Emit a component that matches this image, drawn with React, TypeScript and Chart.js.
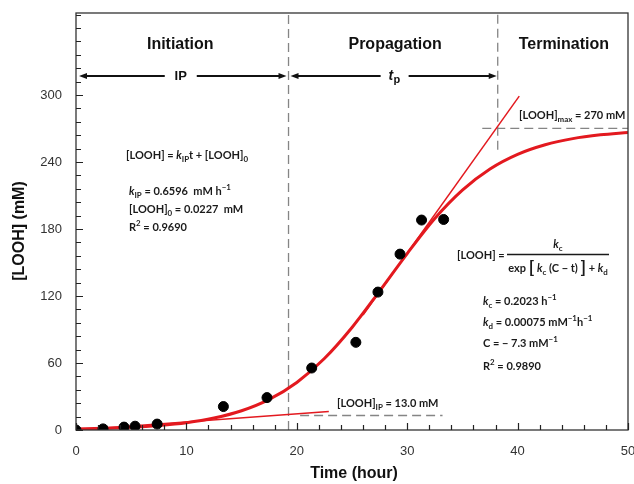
import React, { useEffect, useRef } from 'react';
import { Chart, registerables } from 'chart.js';

Chart.register(...registerables);

// ---- data ----
const TIME_H = [0, 2.45, 4.35, 5.35, 7.35, 13.35, 17.3, 21.35, 25.35, 27.35, 29.35, 31.3, 33.3];
const LOOH_MM = [0, 1, 2.6, 3.4, 5.3, 21, 29, 55.5, 78.5, 123.5, 157.5, 188, 188.5];

const FIT_T = [0, 2.5, 5, 7.5, 10, 12.5, 15, 17.5, 20, 22.5, 25, 27.5, 30, 32.5, 35, 37.5, 40, 42.5, 45, 47.5, 50];
const FIT_LOOH = [0.9, 1.5, 2.4, 4, 6.5, 10.7, 17.2, 27.4, 42.6, 64, 91.8, 124.4, 158, 189.4, 214.8, 233.7, 246.8, 255.4, 260.9, 264.3, 266.5];

const IP_LINE_T = [0, 22.9];
const IP_LINE_Y = [0.02, 16.5];
const TAN_T = [26, 40.15];
const TAN_Y = [103, 299];

const IP_T = 19.25;
const TP_END_T = 38.2;
const TP_END_LINE_BOTTOM = 251;
const LOOH_IP = 13;
const LOOH_MAX = 270;
const IP_DASH_T = [20.3, 33.2];
const MAX_DASH_T = [36.8, 50];

const X_TICK_LABELS = [0, 10, 20, 30, 40, 50];
const Y_TICK_LABELS = [0, 60, 120, 180, 240, 300];
const X_MINOR_STEP = 2;
const Y_MINOR_STEP = 12;
const X_MAX = 50;
const Y_MAX = 373.4;

const PHASES = ['Initiation', 'Propagation', 'Termination'];
const X_TITLE = 'Time (hour)';
const Y_TITLE = '[LOOH] (mM)';

const RED = '#e3191f';
const DASH = '#858585';
const SANS = '"Liberation Sans", Arial, sans-serif';
const EQ = 'Lato, "Liberation Sans", sans-serif';

type Seg = { t: string; it?: boolean; sub?: boolean; sup?: boolean; big?: boolean };

function drawRich(ctx: CanvasRenderingContext2D, segs: Seg[], x: number, y: number, size: number, align: 'left' | 'center' = 'left') {
  const fontFor = (s: Seg) => {
    let sz = size;
    if (s.sub || s.sup) sz = size * 0.72;
    if (s.big) sz = size * 1.6;
    return `${s.it ? 'italic ' : ''}bold ${sz}px ${EQ}`;
  };
  let w = 0;
  for (const s of segs) {
    ctx.font = fontFor(s);
    w += ctx.measureText(s.t).width;
  }
  let cx = align === 'center' ? x - w / 2 : x;
  ctx.textAlign = 'left';
  ctx.textBaseline = 'alphabetic';
  for (const s of segs) {
    ctx.font = fontFor(s);
    const dy = s.sub ? size * 0.28 : s.sup ? -size * 0.42 : s.big ? size * 0.12 : 0;
    ctx.fillText(s.t, cx, y + dy);
    cx += ctx.measureText(s.t).width;
  }
}

const pts = (xs: number[], ys: number[]) => xs.map((x, i) => ({ x, y: ys[i] }));

const overlay = {
  id: 'overlay',
  afterDatasetsDraw(chart: any) {
    const { ctx, chartArea: a, scales } = chart;
    const xs = scales.x;
    const ys = scales.y;
    const px = (v: number) => xs.getPixelForValue(v);
    const py = (v: number) => ys.getPixelForValue(v);
    ctx.save();

    // frame
    ctx.strokeStyle = '#333';
    ctx.lineWidth = 1.3;
    ctx.strokeRect(a.left, a.top, a.right - a.left, a.bottom - a.top);

    // inward ticks
    ctx.lineWidth = 1.2;
    ctx.strokeStyle = '#222';
    ctx.beginPath();
    for (let v = 0; v <= X_MAX + 1e-6; v += X_MINOR_STEP) {
      const major = X_TICK_LABELS.includes(Math.round(v));
      const x = Math.round(px(v)) + 0.5;
      ctx.moveTo(x, a.bottom);
      ctx.lineTo(x, a.bottom - (major ? 7 : 5));
    }
    for (let v = 0; v <= Y_MAX; v += Y_MINOR_STEP) {
      const major = Y_TICK_LABELS.includes(Math.round(v));
      const y = Math.round(py(v)) + 0.5;
      ctx.moveTo(a.left, y);
      ctx.lineTo(a.left + (major ? 7 : 5), y);
    }
    ctx.stroke();

    // phase headers
    ctx.fillStyle = '#111';
    ctx.font = `bold 16px ${SANS}`;
    ctx.textAlign = 'center';
    ctx.textBaseline = 'middle';
    const hy = a.top + 32;
    ctx.fillText(PHASES[0], (px(0) + px(IP_T)) / 2 - 2, hy);
    ctx.fillText(PHASES[1], (px(IP_T) + px(TP_END_T)) / 2 + 2, hy);
    ctx.fillText(PHASES[2], (px(TP_END_T) + a.right) / 2 + 1, hy);

    // double arrows
    const ay = a.top + 63;
    const arrow = (x1: number, x2: number, g1: number, g2: number) => {
      ctx.strokeStyle = '#111';
      ctx.fillStyle = '#111';
      ctx.lineWidth = 1.8;
      ctx.beginPath();
      ctx.moveTo(x1 + 4, ay);
      ctx.lineTo(g1, ay);
      ctx.moveTo(g2, ay);
      ctx.lineTo(x2 - 4, ay);
      ctx.stroke();
      ctx.beginPath();
      ctx.moveTo(x1, ay);
      ctx.lineTo(x1 + 8, ay - 3);
      ctx.lineTo(x1 + 8, ay + 3);
      ctx.closePath();
      ctx.moveTo(x2, ay);
      ctx.lineTo(x2 - 8, ay - 3);
      ctx.lineTo(x2 - 8, ay + 3);
      ctx.closePath();
      ctx.fill();
    };
    const l1 = px(0) + 3, r1 = px(IP_T) - 2;
    const l2 = px(IP_T) + 2, r2 = px(TP_END_T) - 1;
    const c1 = (l1 + r1) / 2 - 2, c2 = (l2 + r2) / 2 + 1;
    arrow(l1, r1, c1 - 16, c1 + 16);
    arrow(l2, r2, c2 - 14, c2 + 14);
    ctx.fillStyle = '#111';
    ctx.font = `bold 13px ${SANS}`;
    ctx.textAlign = 'center';
    ctx.textBaseline = 'middle';
    ctx.fillText('IP', c1, ay);
    ctx.font = `italic bold 14px ${SANS}`;
    ctx.textAlign = 'left';
    ctx.fillText('t', c2 - 6, ay);
    ctx.font = `bold 11px ${SANS}`;
    ctx.fillText('p', c2 - 1, ay + 4);

    // axis titles
    ctx.fillStyle = '#111';
    ctx.font = `bold 16px ${SANS}`;
    ctx.textAlign = 'center';
    ctx.textBaseline = 'middle';
    ctx.fillText(X_TITLE, (a.left + a.right) / 2 + 2, 474);
    ctx.save();
    ctx.translate(20, 231);
    ctx.rotate(-Math.PI / 2);
    ctx.fillText(Y_TITLE, 0, 0);
    ctx.restore();

    // equations (left)
    ctx.fillStyle = '#1a1a1a';
    const s = 11;
    drawRich(ctx, [{ t: '[LOOH] = ' }, { t: 'k', it: true }, { t: 'IP', sub: true }, { t: 't + [LOOH]' }, { t: '0', sub: true }], 126, 159, s);
    drawRich(ctx, [{ t: 'k', it: true }, { t: 'IP', sub: true }, { t: ' = 0.6596  mM h' }, { t: '\u22121', sup: true }], 129, 195, s);
    drawRich(ctx, [{ t: '[LOOH]' }, { t: '0', sub: true }, { t: ' = 0.0227  mM' }], 129, 213, s);
    drawRich(ctx, [{ t: 'R' }, { t: '2', sup: true }, { t: ' = 0.9690' }], 129, 231, s);

    // equations (right)
    drawRich(ctx, [{ t: '[LOOH] =' }], 457, 258.6, s);
    drawRich(ctx, [{ t: 'k', it: true }, { t: 'c', sub: true }], 558, 248, s, 'center');
    ctx.strokeStyle = '#1a1a1a';
    ctx.lineWidth = 1.3;
    ctx.beginPath();
    ctx.moveTo(507, 254.5);
    ctx.lineTo(609, 254.5);
    ctx.stroke();
    drawRich(ctx, [
      { t: 'exp ' }, { t: '[', big: true }, { t: ' ' }, { t: 'k', it: true }, { t: 'c', sub: true },
      { t: ' (C \u2212 t) ' }, { t: ']', big: true }, { t: ' + ' }, { t: 'k', it: true }, { t: 'd', sub: true },
    ], 558, 272, s, 'center');
    drawRich(ctx, [{ t: 'k', it: true }, { t: 'c', sub: true }, { t: ' = 0.2023 h' }, { t: '\u22121', sup: true }], 483, 305, s);
    drawRich(ctx, [{ t: 'k', it: true }, { t: 'd', sub: true }, { t: ' = 0.00075 mM' }, { t: '\u22121', sup: true }, { t: 'h' }, { t: '\u22121', sup: true }], 483, 326, s);
    drawRich(ctx, [{ t: 'C = \u2212 7.3 mM' }, { t: '\u22121', sup: true }], 483, 347, s);
    drawRich(ctx, [{ t: 'R' }, { t: '2', sup: true }, { t: ' = 0.9890' }], 483, 370, s);

    // annotations
    drawRich(ctx, [{ t: '[LOOH]' }, { t: 'max', sub: true }, { t: ' = 270 mM' }], 519, 118.5, s);
    drawRich(ctx, [{ t: '[LOOH]' }, { t: 'IP', sub: true }, { t: ' = 13.0 mM' }], 337, 406.5, s);

    ctx.restore();
  },
};

export default function App() {
  const ref = useRef<HTMLCanvasElement>(null);
  useEffect(() => {
    document.body.style.margin = '0';
    const canvas = ref.current!;
    const dashed = (data: { x: number; y: number }[]) => ({
      data,
      showLine: true,
      borderColor: DASH,
      borderWidth: 1.3,
      borderDash: [9, 5],
      pointRadius: 0,
      order: 3,
    });
    const chart = new Chart(canvas, {
      type: 'scatter',
      data: {
        datasets: [
          {
            data: pts(TIME_H, LOOH_MM),
            backgroundColor: '#000',
            borderColor: '#000',
            pointRadius: 5,
            showLine: false,
            order: 0,
          } as any,
          {
            data: pts(FIT_T, FIT_LOOH),
            showLine: true,
            borderColor: RED,
            borderWidth: 3,
            pointRadius: 0,
            cubicInterpolationMode: 'monotone',
            order: 1,
          },
          { data: pts(IP_LINE_T, IP_LINE_Y), showLine: true, borderColor: RED, borderWidth: 1.5, pointRadius: 0, order: 2 },
          { data: pts(TAN_T, TAN_Y), showLine: true, borderColor: RED, borderWidth: 1.5, pointRadius: 0, order: 2 },
          dashed([{ x: IP_T, y: 0 }, { x: IP_T, y: Y_MAX }]),
          dashed([{ x: TP_END_T, y: TP_END_LINE_BOTTOM }, { x: TP_END_T, y: Y_MAX }]),
          dashed([{ x: MAX_DASH_T[0], y: LOOH_MAX }, { x: MAX_DASH_T[1], y: LOOH_MAX }]),
          dashed([{ x: IP_DASH_T[0], y: LOOH_IP }, { x: IP_DASH_T[1], y: LOOH_IP }]),
        ],
      },
      options: {
        animation: false,
        responsive: false,
        devicePixelRatio: 1,
        layout: { padding: { left: 0, top: 13, right: 6, bottom: 0 } },
        plugins: { legend: { display: false }, tooltip: { enabled: false } },
        scales: {
          x: {
            type: 'linear',
            min: 0,
            max: X_MAX,
            grid: { display: false, drawTicks: false },
            border: { display: false },
            afterBuildTicks: (sc: any) => { sc.ticks = X_TICK_LABELS.map((v) => ({ value: v })); },
            afterFit: (sc: any) => { sc.height = 54; sc.paddingLeft = 0; sc.paddingRight = 0; },
            ticks: { font: { family: SANS, size: 13 }, color: '#333', padding: 14, maxRotation: 0 },
          },
          y: {
            type: 'linear',
            min: 0,
            max: Y_MAX,
            grid: { display: false, drawTicks: false },
            border: { display: false },
            afterBuildTicks: (sc: any) => { sc.ticks = Y_TICK_LABELS.map((v) => ({ value: v })); },
            afterFit: (sc: any) => { sc.width = 76; sc.paddingTop = 0; sc.paddingBottom = 0; },
            ticks: { font: { family: SANS, size: 13 }, color: '#333', padding: 14 },
          },
        },
      },
      plugins: [overlay],
    } as any);
    return () => chart.destroy();
  }, []);
  return (
    <div style={{ width: 634, height: 484 }}>
      <canvas ref={ref} width={634} height={484} style={{ display: 'block' }} />
    </div>
  );
}
